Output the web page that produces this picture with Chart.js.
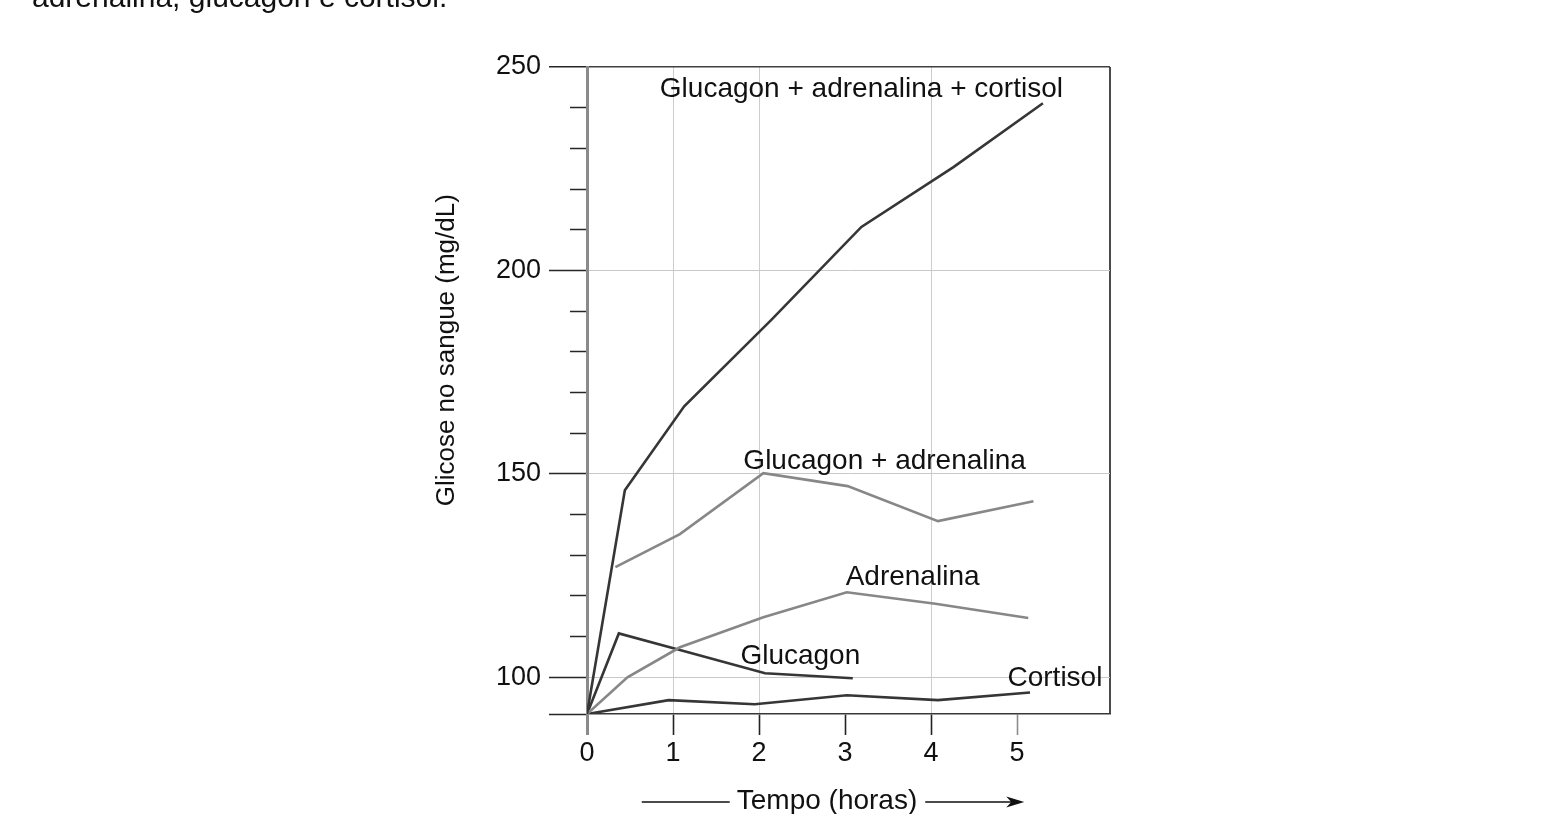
<!DOCTYPE html>
<html lang="pt">
<head>
<meta charset="utf-8">
<title>Glicose no sangue</title>
<script src="https://cdn.jsdelivr.net/npm/chart.js@4.4.0/dist/chart.umd.min.js"></script>
<style>
  html, body { margin: 0; padding: 0; background: #fff; overflow: hidden; }
  #wrap { position: relative; width: 1567px; height: 814px; }
  #caption {
    position: absolute; left: 32px; top: -18px;
    font: 30px/30px "Liberation Sans", Arial, sans-serif;
    color: #111; white-space: nowrap;
  }
</style>
</head>
<body>
<div id="wrap">
  <div id="caption">adrenalina, glucagon e cortisol.</div>
  <canvas id="glucoseChart"></canvas>
</div>
<script>
// Values (time in hours, glucose in mg/dL)
const timeCombo = [0, 0.44, 1.13, 2.14, 3.19, 4.26, 5.3];
const glucoseCombo = [91, 146, 166.6, 187.8, 210.7, 225.4, 241.1];

const timeGlucAdr = [0.33, 1.08, 2.05, 3.03, 4.08, 5.19];
const glucoseGlucAdr = [127.1, 135.2, 150.2, 147, 138.4, 143.3];

const timeAdr = [0, 0.47, 1.08, 2.05, 3.02, 4.05, 5.13];
const glucoseAdr = [91, 100, 107.4, 114.8, 120.9, 118.1, 114.6];

const timeGluc = [0, 0.37, 1.08, 2.07, 3.09];
const glucoseGluc = [91, 110.8, 106.7, 101, 99.8];

const timeCort = [0, 0.95, 1.95, 3.02, 4.08, 5.15];
const glucoseCort = [91, 94.4, 93.4, 95.6, 94.4, 96.3];

const xTicks = [0, 1, 2, 3, 4, 5];
const xGridShown = [1, 2, 4];
const yTicks = [100, 110, 120, 130, 140, 150, 160, 170, 180, 190, 200, 210, 220, 230, 240, 250];
const xMin = 0;
const xMax = 6.08;
const yMin = 91;
const yMax = 250;

// Curve names, placed in data units
const curveLabels = [
  { text: "Glucagon + adrenalina + cortisol", x: 3.19, y: 244.5 },
  { text: "Glucagon + adrenalina", x: 3.46, y: 153.1 },
  { text: "Adrenalina", x: 3.785, y: 124.5 },
  { text: "Glucagon", x: 2.48, y: 105.2 },
  { text: "Cortisol", x: 5.44, y: 99.9 },
];

const FONT = '"Liberation Sans", Arial, Helvetica, sans-serif';
const DARK = "#363636";
const GRAY = "#878787";

function toPoints(xs, ys) {
  return xs.map((x, i) => ({ x: x, y: ys[i] }));
}

function series(label, xs, ys, color) {
  return {
    label: label,
    data: toPoints(xs, ys),
    borderColor: color,
    borderWidth: 2.6,
    pointRadius: 0,
    tension: 0,
    fill: false,
  };
}

// Draws curve names and the two axis titles
const decorPlugin = {
  id: "decor",
  afterDatasetsDraw(chart) {
    const { ctx, chartArea, scales } = chart;
    ctx.save();
    ctx.fillStyle = "#111";
    ctx.font = "28px " + FONT;
    ctx.textAlign = "center";
    ctx.textBaseline = "middle";

    curveLabels.forEach((c) => {
      ctx.fillText(c.text, scales.x.getPixelForValue(c.x), scales.y.getPixelForValue(c.y));
    });

    // y axis title
    ctx.save();
    ctx.font = "26px " + FONT;
    ctx.translate(chartArea.left - 140, scales.y.getPixelForValue(180.4));
    ctx.rotate(-Math.PI / 2);
    ctx.fillText("Glicose no sangue (mg/dL)", 0, 0);
    ctx.restore();

    // x axis title with arrow
    const title = "Tempo (horas)";
    const cx = scales.x.getPixelForValue(2.79);
    const cy = chartArea.bottom + 87;
    ctx.font = "28px " + FONT;
    ctx.fillText(title, cx, cy);
    const w = ctx.measureText(title).width;
    const lineY = cy + 1;
    ctx.strokeStyle = "#111";
    ctx.lineWidth = 1.6;
    ctx.beginPath();
    ctx.moveTo(cx - w / 2 - 95, lineY);
    ctx.lineTo(cx - w / 2 - 7, lineY);
    ctx.moveTo(cx + w / 2 + 8, lineY);
    ctx.lineTo(cx + w / 2 + 100, lineY);
    ctx.stroke();
    const tip = cx + w / 2 + 107;
    ctx.beginPath();
    ctx.moveTo(tip, lineY);
    ctx.lineTo(tip - 18, lineY - 5.5);
    ctx.lineTo(tip - 13, lineY);
    ctx.lineTo(tip - 18, lineY + 5.5);
    ctx.closePath();
    ctx.fillStyle = "#111";
    ctx.fill();
    ctx.restore();
  },
};

Chart.defaults.font.family = FONT;
Chart.defaults.font.size = 27;
Chart.defaults.color = "#111";

window.onload = function () {
  const ctx = document.getElementById("glucoseChart").getContext("2d");

  new Chart(ctx, {
    type: "line",
    data: {
      datasets: [
        series("Glucagon + adrenalina + cortisol", timeCombo, glucoseCombo, DARK),
        series("Glucagon + adrenalina", timeGlucAdr, glucoseGlucAdr, GRAY),
        series("Adrenalina", timeAdr, glucoseAdr, GRAY),
        series("Glucagon", timeGluc, glucoseGluc, DARK),
        series("Cortisol", timeCort, glucoseCort, DARK),
      ],
    },
    options: {
      responsive: true,
      maintainAspectRatio: false,
      animation: false,
      events: [],
      layout: { padding: { left: 0, right: 457, top: 67, bottom: 0 } },
      plugins: {
        legend: { display: false },
        tooltip: { enabled: false },
      },
      scales: {
        x: {
          type: "linear",
          min: xMin,
          max: xMax,
          afterBuildTicks: function (axis) {
            axis.ticks = xTicks.concat([xMax]).map((v) => ({ value: v }));
          },
          afterFit: function (axis) {
            axis.height = 100;
          },
          ticks: {
            autoSkip: false,
            maxRotation: 0,
            padding: 2,
            callback: function (value) {
              return value === xMax ? "" : String(value);
            },
          },
          grid: {
            tickLength: 21,
            color: function (c) {
              const v = c.tick ? c.tick.value : null;
              if (v === xMax) return "#4a4a4a";
              return xGridShown.includes(v) ? "#cdcdcd" : "rgba(0,0,0,0)";
            },
            lineWidth: function (c) {
              return c.tick && c.tick.value === xMax ? 2 : 1;
            },
            tickColor: function (c) {
              const v = c.tick ? c.tick.value : null;
              if (v === 0) return "#8a8a8a";
              if (v === xMax) return "rgba(0,0,0,0)";
              if (v === 5) return "#8c8c8c";
              return "#222";
            },
            tickWidth: function (c) {
              return c.tick && c.tick.value === 0 ? 3 : 1.6;
            },
          },
          border: { color: "#383838", width: 1.6 },
        },
        y: {
          type: "linear",
          min: yMin,
          max: yMax,
          afterBuildTicks: function (axis) {
            axis.ticks = [yMin].concat(yTicks).map((v) => ({ value: v }));
          },
          afterFit: function (axis) {
            axis.width = 587;
          },
          ticks: {
            autoSkip: false,
            padding: 8,
            callback: function (value) {
              return value % 50 === 0 ? String(value) : "";
            },
          },
          grid: {
            tickLength: 38,
            color: function (c) {
              const v = c.tick ? c.tick.value : null;
              if (v === yMax) return "#404040";
              if (v !== yMin && v % 50 === 0) return "#c8c8c8";
              return "rgba(0,0,0,0)";
            },
            lineWidth: function (c) {
              return c.tick && c.tick.value === yMax ? 1.6 : 1;
            },
            tickColor: "#262626",
            tickWidth: 1.6,
            tickBorderDash: function (c) {
              const v = c.tick ? c.tick.value : 0;
              return v === yMin || v % 50 === 0 ? [] : [0, 21, 17, 0];
            },
          },
          border: { color: "#8a8a8a", width: 3 },
        },
      },
    },
    plugins: [decorPlugin],
  });
};
</script>
</body>
</html>
